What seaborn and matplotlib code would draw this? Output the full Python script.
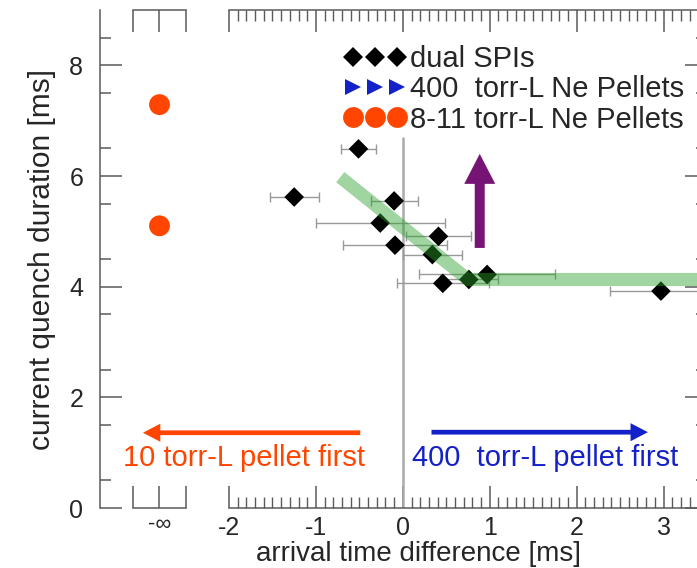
import numpy as np
import pandas as pd
import matplotlib
matplotlib.use("Agg")
import matplotlib.pyplot as plt
import seaborn as sns
from matplotlib.lines import Line2D
from matplotlib.ticker import MultipleLocator, FixedLocator

# ---------------- data ----------------
spi_dt = [-1.25, -0.51, -0.10, -0.26, 0.41, -0.09, 0.34, 0.46, 0.76, 0.97, 2.97]
spi_cq = [5.62, 6.49, 5.55, 5.15, 4.91, 4.75, 4.58, 4.06, 4.13, 4.22, 3.92]
spi_dt_err = [0.28, 0.20, 0.27, 0.74, 0.37, 0.60, 0.34, 0.53, 0.33, 0.78, 0.59]

small_label = "-\u221e"          # only the 8-11 torr-L pellet (no 400 torr-L pellet)
small_cq = [7.29, 5.10]

fit_dt = [-0.72, 0.75, 3.5]
fit_cq = [5.98, 4.13, 4.13]

x_ticks = [-2, -1, 0, 1, 2, 3]
y_ticks = [0, 2, 4, 6, 8]

legend_labels = ["dual SPIs", "400  torr-L Ne Pellets", "8-11 torr-L Ne Pellets"]

# ---------------- style ----------------
sns.set_theme(style="ticks")
plt.rcParams['font.family'] = ['Liberation Sans', 'DejaVu Sans']
FS_TICK = 18
FS_LEG = 21
FS_LAB = 20
FS_TXT = 21
SPINE = '#5a5a5a'
ORANGE = '#ff4500'
BLUE = '#1420c8'
PURPLE = '#761476'
GREEN = '#2ca02c'

W, H = 697, 568
fig = plt.figure(figsize=(W / 100, H / 100), dpi=100)


def frac(x0, y0, x1, y1):
    return [x0 / W, 1 - y1 / H, (x1 - x0) / W, (y1 - y0) / H]


ax1 = fig.add_axes(frac(100, 10, 186, 508))
ax2 = fig.add_axes(frac(229, 10, 707, 508))

MAJ, MIN = 16, 8
for ax in (ax1, ax2):
    ax.set_facecolor('white')
    for s in ax.spines.values():
        s.set_color(SPINE)
        s.set_linewidth(1.1)
    ax.set_ylim(0, 9)

# ---- left narrow panel (-inf) ----
df_small = pd.DataFrame({"pos": [0] * len(small_cq), "cq": small_cq})
sns.scatterplot(data=df_small, x="pos", y="cq", ax=ax1, marker='o', s=225,
                color=ORANGE, edgecolor='none', linewidth=0, zorder=3, legend=False)
ax1.set_xlim(-2.245, 1)
ax1.spines['right'].set_visible(False)
ax1.spines['top'].set_bounds(-1, 1)
ax1.spines['bottom'].set_bounds(-1, 1)
ax1.xaxis.set_major_locator(FixedLocator([-1, 0, 1]))
ax1.set_xticklabels(["", small_label, ""], fontsize=16)
ax1.yaxis.set_major_locator(FixedLocator(y_ticks))
ax1.yaxis.set_minor_locator(FixedLocator(np.arange(0.5, 9, 1.0)))
ax1.set_yticklabels([str(v) for v in y_ticks], fontsize=FS_TICK)
ax1.tick_params(axis='x', which='major', direction='in', top=True, bottom=True,
                length=MAJ, width=1.1, color=SPINE, pad=4)
ax1.tick_params(axis='y', which='major', direction='in', left=True, right=False,
                length=MAJ, width=1.1, color=SPINE, pad=12)
ax1.tick_params(axis='y', which='minor', direction='in', left=True, right=False,
                length=MIN, width=1.1, color=SPINE)
ax1.set_xlabel("")
ax1.set_ylabel("current quench duration [ms]", fontsize=21.5)
ax1.yaxis.set_label_coords(-0.51, 0.5)

# ---- main panel ----
ax2.errorbar(spi_dt, spi_cq, xerr=spi_dt_err, fmt='none', ecolor='#999999',
             elinewidth=1.0, capsize=3.5, capthick=1.0, zorder=2)
df_spi = pd.DataFrame({"dt": spi_dt, "cq": spi_cq})
sns.scatterplot(data=df_spi, x="dt", y="cq", ax=ax2, marker='D', s=100,
                color='black', edgecolor='none', linewidth=0, zorder=3, legend=False)
sns.lineplot(x=fit_dt, y=fit_cq, ax=ax2, sort=False, color=GREEN, alpha=0.45,
             linewidth=9.4, zorder=4, solid_capstyle='butt')
ax2.axvline(0, ymin=0, ymax=0.743, color='#aaaaaa', linewidth=1.8, zorder=1)

ax2.set_xlim(-2, 3.5)
ax2.spines['left'].set_visible(False)
ax2.xaxis.set_major_locator(FixedLocator(x_ticks))
ax2.xaxis.set_minor_locator(MultipleLocator(0.1))
ax2.set_xticklabels([str(v) for v in x_ticks], fontsize=FS_TICK)
ax2.yaxis.set_major_locator(FixedLocator(y_ticks))
ax2.yaxis.set_minor_locator(FixedLocator(np.arange(0.5, 9, 1.0)))
ax2.tick_params(axis='x', which='major', direction='in', top=True, bottom=True,
                length=MAJ, width=1.1, color=SPINE, pad=5.5)
ax2.tick_params(axis='x', which='minor', direction='in', top=True, bottom=True,
                length=MIN, width=1.0, color=SPINE)
ax2.tick_params(axis='y', which='both', direction='in', left=False, right=True,
                labelleft=False, labelright=False, color=SPINE, width=1.1)
ax2.tick_params(axis='y', which='major', length=MAJ)
ax2.tick_params(axis='y', which='minor', length=MIN)
ax2.set_ylabel("")
ax2.set_xlabel("arrival time difference [ms]", fontsize=FS_LAB)
ax2.xaxis.set_label_coords((419 - 229) / 478, -0.0663)

# arrows
ax2.annotate('', xy=(0.885, 6.40), xytext=(0.885, 4.70), annotation_clip=False,
             arrowprops=dict(arrowstyle='simple,head_length=2.16,head_width=2.23,tail_width=0.72',
                             mutation_scale=10, color=PURPLE, lw=0, shrinkA=0, shrinkB=0))
ax2.annotate('', xy=(-2.99, 1.36), xytext=(-0.49, 1.36), annotation_clip=False,
             arrowprops=dict(arrowstyle='simple,head_length=1.25,head_width=1.3,tail_width=0.34',
                             mutation_scale=10, color=ORANGE, lw=0, shrinkA=0, shrinkB=0))
ax2.annotate('', xy=(2.82, 1.37), xytext=(0.33, 1.37), annotation_clip=False,
             arrowprops=dict(arrowstyle='simple,head_length=1.25,head_width=1.3,tail_width=0.34',
                             mutation_scale=10, color=BLUE, lw=0, shrinkA=0, shrinkB=0))
ax2.text(-3.22, 0.90, "10 torr-L pellet first", color=ORANGE, fontsize=FS_TXT,
         ha='left', va='center', clip_on=False)
ax2.text(0.10, 0.90, "400  torr-L pellet first", color=BLUE, fontsize=FS_TXT,
         ha='left', va='center', clip_on=False)

# legend
handles = [
    Line2D([], [], linestyle='none', marker='D', markersize=10, color='black', markeredgewidth=0),
    Line2D([], [], linestyle='none', marker='>', markersize=12, color=BLUE, markeredgewidth=0),
    Line2D([], [], linestyle='none', marker='o', markersize=15, color=ORANGE, markeredgewidth=0),
]
leg = ax2.legend(handles, legend_labels, loc='upper left', numpoints=3,
                 bbox_to_anchor=(344 / W, 1 - 45 / H), bbox_transform=fig.transFigure,
                 fontsize=FS_LEG, frameon=False, handlelength=2.11, handletextpad=0.14,
                 labelspacing=0.08, borderpad=0, borderaxespad=0)

fig.savefig("out.png", dpi=100)
